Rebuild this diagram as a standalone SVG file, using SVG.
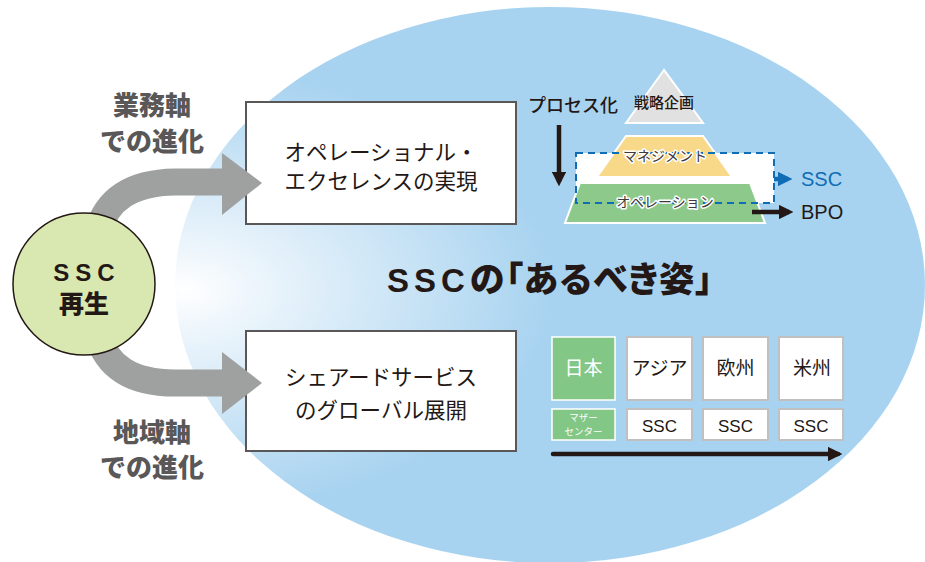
<svg xmlns="http://www.w3.org/2000/svg" width="925" height="562" viewBox="0 0 925 562">
<defs>
<radialGradient id="bg" gradientUnits="userSpaceOnUse" cx="185" cy="290" r="430" gradientTransform="translate(185 290) scale(1 0.6) translate(-185 -290)">
<stop offset="0" stop-color="#ffffff"/>
<stop offset="0.15" stop-color="#eef6fc"/>
<stop offset="0.85" stop-color="#a8d3f0"/>
<stop offset="1" stop-color="#a8d3f0"/>
</radialGradient>
<marker id="ahBlk" viewBox="0 0 10 10" refX="7" refY="5" markerWidth="3.2" markerHeight="3.2" orient="auto" markerUnits="strokeWidth">
<path d="M0,0 L10,5 L0,10 z" fill="#231815"/>
</marker>
<marker id="ahBlu" viewBox="0 0 10 10" refX="7" refY="5" markerWidth="3.2" markerHeight="3.2" orient="auto" markerUnits="strokeWidth">
<path d="M0,0 L10,5 L0,10 z" fill="#0f6db5"/>
</marker>
<style>
.jp{font-family:"Noto Sans CJK JP","Noto Sans",sans-serif;}
.lat{font-family:"Liberation Sans","Noto Sans CJK JP",sans-serif;}
.box{fill:#ffffff;stroke:#595757;stroke-width:2;}
.boxtxt{font-size:21.5px;fill:#231815;text-anchor:middle;}
.axis{font-size:26px;font-weight:900;fill:#595757;text-anchor:middle;}
.grid{fill:#ffffff;stroke:#c0c0c0;stroke-width:2;}
.gridg{fill:#82c785;stroke:#ffffff;stroke-width:1.5;}
.gtxt{font-size:19px;fill:#231815;text-anchor:middle;}
.halo{paint-order:stroke;stroke:#ffffff;stroke-width:3px;stroke-linejoin:round;}
.band{fill:none;stroke:#9fa0a0;stroke-width:27;}
.palt{font-feature-settings:"palt";}
</style>
</defs>

<ellipse id="background" cx="550" cy="285" rx="375" ry="278" fill="url(#bg)"/>

<g id="connectors">
<path class="band" d="M 98 232 Q 110 183 175 182 L 226 182"/>
<path class="band" d="M 98 334 Q 110 383 175 383 L 226 383"/>
</g>

<g id="node-ssc">
<circle cx="84" cy="284" r="71" fill="#d9e7b0" stroke="#231815" stroke-width="1.5"/>
<text class="lat" x="87" y="281" font-size="24" font-weight="700" letter-spacing="6" text-anchor="middle" fill="#231815">SSC</text>
<text class="jp" x="84" y="313" font-size="25" font-weight="900" text-anchor="middle" fill="#231815">再生</text>
</g>

<g id="label-gyomu">
<text class="jp axis" x="152" y="115">業務軸</text>
<text class="jp axis" x="152" y="151">での進化</text>
</g>
<g id="label-chiiki">
<text class="jp axis" x="152" y="442">地域軸</text>
<text class="jp axis" x="152" y="477">での進化</text>
</g>

<g id="node-operational">
<rect class="box" x="246" y="102" width="270" height="122"/>
<text class="jp boxtxt" x="381" y="160">オペレーショナル・</text>
<text class="jp boxtxt" x="381" y="189">エクセレンスの実現</text>
</g>
<polygon points="222,153 262,183 222,215" fill="#9fa0a0"/>

<g id="node-shared">
<rect class="box" x="246" y="331" width="270" height="120"/>
<text class="jp boxtxt" x="381" y="385">シェアードサービス</text>
<text class="jp boxtxt" x="381" y="418">のグローバル展開</text>
</g>
<polygon points="222,352 262,383 222,414" fill="#9fa0a0"/>

<g id="title">
<text x="387" y="292" font-weight="700" fill="#231815"><tspan class="lat" font-size="33" letter-spacing="5">SSC</tspan><tspan class="jp palt" font-size="35" font-weight="900" letter-spacing="1">の「あるべき姿」</tspan></text>
</g>

<g id="node-pyramid">
<rect x="576" y="153" width="198" height="50" fill="#ffffff"/>
<polygon points="664,70 626,123 703,123" fill="#e1e1e1" stroke="#ffffff" stroke-width="2"/>
<polygon points="626,136 703,136 732,177 597,177" fill="#f8d98a" stroke="#ffffff" stroke-width="2"/>
<polygon points="580,183 750,183 765,223 565,223" fill="#8cc98a" stroke="#ffffff" stroke-width="2"/>
<rect x="576" y="153" width="198" height="50" fill="none" stroke="#0f6db5" stroke-width="2" stroke-dasharray="7 5"/>
<text class="jp" x="664" y="108" font-size="15" font-weight="500" text-anchor="middle" fill="#231815">戦略企画</text>
<text class="jp halo" x="665" y="161" font-size="14" text-anchor="middle" fill="#3e3a39">マネジメント</text>
<text class="jp halo" x="665" y="207" font-size="14" text-anchor="middle" fill="#3e3a39">オペレーション</text>
</g>

<g id="label-process">
<text class="jp" x="528" y="112" font-size="18" font-weight="500" fill="#231815">プロセス化</text>
<line x1="559" y1="125" x2="559" y2="182" stroke="#231815" stroke-width="4.5" marker-end="url(#ahBlk)"/>
</g>

<g id="node-ssc-out">
<line x1="774" y1="179" x2="788" y2="179" stroke="#0f6db5" stroke-width="4.5" marker-end="url(#ahBlu)"/>
<text class="lat" x="801" y="186" font-size="20" fill="#0f6db5">SSC</text>
</g>
<g id="node-bpo-out">
<line x1="752" y1="212" x2="789" y2="212" stroke="#231815" stroke-width="4.5" marker-end="url(#ahBlk)"/>
<text class="lat" x="801" y="219" font-size="20" fill="#231815">BPO</text>
</g>

<g id="node-japan">
<rect class="gridg" x="552" y="337" width="63" height="63"/>
<text class="jp gtxt" x="583.5" y="375" style="fill:#ffffff">日本</text>
<rect class="gridg" x="552" y="409" width="63" height="31"/>
<text class="jp" x="583.5" y="421" font-size="9.5" text-anchor="middle" fill="#ffffff">マザー</text>
<text class="jp" x="583.5" y="435" font-size="9.5" text-anchor="middle" fill="#ffffff">センター</text>
</g>
<g id="node-asia">
<rect class="grid" x="627" y="337" width="65" height="63"/>
<text class="jp gtxt" x="659.5" y="375">アジア</text>
<rect class="grid" x="627" y="409" width="65" height="31"/>
<text class="lat" x="659.5" y="432" font-size="17" text-anchor="middle" fill="#231815">SSC</text>
</g>
<g id="node-europe">
<rect class="grid" x="703" y="337" width="65" height="63"/>
<text class="jp gtxt" x="735.5" y="375">欧州</text>
<rect class="grid" x="703" y="409" width="65" height="31"/>
<text class="lat" x="735.5" y="432" font-size="17" text-anchor="middle" fill="#231815">SSC</text>
</g>
<g id="node-america">
<rect class="grid" x="779" y="337" width="64" height="63"/>
<text class="jp gtxt" x="812" y="375">米州</text>
<rect class="grid" x="779" y="409" width="64" height="31"/>
<text class="lat" x="811" y="432" font-size="17" text-anchor="middle" fill="#231815">SSC</text>
</g>
<g id="timeline">
<line x1="553" y1="454" x2="838" y2="454" stroke="#231815" stroke-width="4.5" stroke-linecap="round" marker-end="url(#ahBlk)"/>
</g>
</svg>
